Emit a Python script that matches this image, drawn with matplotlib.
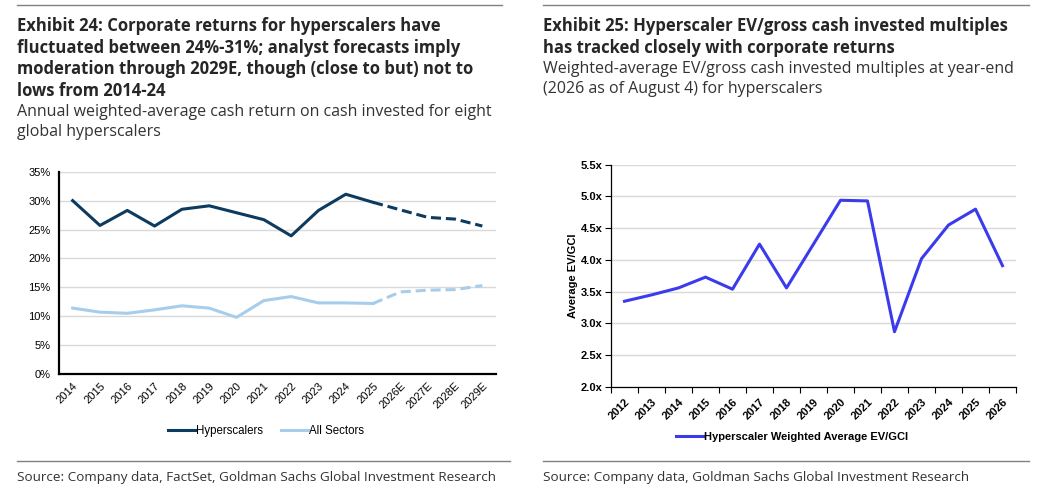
import numpy as np
import matplotlib.pyplot as plt
from matplotlib.lines import Line2D

# --- data ---
years_left = ["2014", "2015", "2016", "2017", "2018", "2019", "2020", "2021",
              "2022", "2023", "2024", "2025", "2026E", "2027E", "2028E", "2029E"]
hyperscalers = [30.0, 25.7, 28.3, 25.6, 28.5, 29.1, 27.9, 26.7,
                23.9, 28.3, 31.1, 29.7, 28.4, 27.1, 26.8, 25.6]
all_sectors = [11.4, 10.7, 10.5, 11.1, 11.8, 11.4, 9.8, 12.7,
               13.4, 12.3, 12.3, 12.2, 14.2, 14.5, 14.6, 15.3]
n_actual = 12  # 2014..2025 are actuals, forecasts after

years_right = ["2012", "2013", "2014", "2015", "2016", "2017", "2018", "2019",
               "2020", "2021", "2022", "2023", "2024", "2025", "2026"]
ev_gci = [3.35, 3.45, 3.56, 3.73, 3.54, 4.25, 3.56, 4.25,
          4.94, 4.93, 2.87, 4.02, 4.55, 4.80, 3.91]

NAVY = "#0D3A5F"
LIGHT = "#A8CDEB"
BLUE = "#3B3BEE"
GRID = "#D9D9D9"
TXT = "#262626"

W, H = 1059, 504
fig = plt.figure(figsize=(W / 100, H / 100), dpi=100)

def fx(px):
    return px / W

def fy(py):
    return 1 - py / H

title_font = "Open Sans"
chart_font = "Liberation Sans"

# --- header / footer rules ---
for x0, x1 in [(17, 502), (543, 1029)]:
    fig.add_artist(Line2D([fx(x0), fx(x1)], [fy(5), fy(5)], color="#808080", lw=1))
for x0, x1 in [(17, 510), (543, 1029)]:
    fig.add_artist(Line2D([fx(x0), fx(x1)], [fy(461), fy(461)], color="#808080", lw=1))

left_title = ["Exhibit 24: Corporate returns for hyperscalers have",
              "fluctuated between 24%-31%; analyst forecasts imply",
              "moderation through 2029E, though (close to but) not to",
              "lows from 2014-24"]
left_sub = ["Annual weighted-average cash return on cash invested for eight",
            "global hyperscalers"]
right_title = ["Exhibit 25: Hyperscaler EV/gross cash invested multiples",
               "has tracked closely with corporate returns"]
right_sub = ["Weighted-average EV/gross cash invested multiples at year-end",
             "(2026 as of August 4) for hyperscalers"]

def header(x, lines_bold, lines_reg):
    y = 26
    for s in lines_bold:
        fig.text(fx(x), fy(y), s, family=title_font, weight="bold", fontsize=12.0,
                 color=TXT, va="center", ha="left")
        y += 21.7
    y -= 0.7
    for s in lines_reg:
        fig.text(fx(x), fy(y), s, family=title_font, fontsize=11.5,
                 color="#333333", va="center", ha="left")
        y += 20.3

header(17, left_title, left_sub)
header(543, right_title, right_sub)

fig.text(fx(17), fy(477), "Source: Company data, FactSet, Goldman Sachs Global Investment Research",
         family=title_font, fontsize=9.7, color="#333333", va="center")
fig.text(fx(543), fy(477), "Source: Company data, Goldman Sachs Global Investment Research",
         family=title_font, fontsize=9.7, color="#333333", va="center")

# --- left chart ---
ax1 = fig.add_axes([fx(59), fy(374), fx(496 - 59), (374 - 171.7) / H])
x = np.arange(len(years_left))
ax1.plot(x[:n_actual], hyperscalers[:n_actual], color=NAVY, lw=2.2)
ax1.plot(x[n_actual - 1:], hyperscalers[n_actual - 1:], color=NAVY, lw=2.2,
         dashes=(3.3, 1.6))
ax1.plot(x[:n_actual], all_sectors[:n_actual], color=LIGHT, lw=2.2)
ax1.plot(x[n_actual - 1:], all_sectors[n_actual - 1:], color=LIGHT, lw=2.2,
         dashes=(3.3, 1.6))
ax1.set_xlim(-0.5, len(years_left) - 0.5)
ax1.set_ylim(0, 35)
ax1.set_yticks(np.arange(0, 36, 5))
ax1.set_yticklabels([f"{v}%" for v in range(0, 36, 5)])
ax1.set_xticks(x)
ax1.set_xticklabels(years_left, rotation=45, ha="right", rotation_mode="anchor")
ax1.tick_params(length=0, labelsize=8, pad=5)
ax1.tick_params(axis="y", pad=6)
for lab in ax1.get_xticklabels() + ax1.get_yticklabels():
    lab.set_family(chart_font)
ax1.grid(axis="y", color=GRID, lw=1)
ax1.set_axisbelow(True)
for s in ["top", "right"]:
    ax1.spines[s].set_visible(False)
for s in ["left", "bottom"]:
    ax1.spines[s].set_linewidth(1.6)
    ax1.spines[s].set_color("black")
handles = [Line2D([], [], color=NAVY, lw=2.2), Line2D([], [], color=LIGHT, lw=2.2)]
fig.legend(handles, ["Hyperscalers", "All Sectors"], loc="center",
           bbox_to_anchor=(fx(266), fy(431)), ncol=2, frameon=False,
           prop={"family": chart_font, "size": 8.3}, handlelength=2.3,
           handletextpad=0.1, columnspacing=1.6)

# --- right chart ---
ax2 = fig.add_axes([fx(611), fy(387), fx(1016 - 611), (387 - 164.7) / H])
x2 = np.arange(len(years_right))
ax2.plot(x2, ev_gci, color=BLUE, lw=2.2)
ax2.set_xlim(-0.5, len(years_right) - 0.5)
ax2.set_ylim(2.0, 5.5)
yt = np.arange(2.0, 5.51, 0.5)
ax2.set_yticks(yt)
ax2.set_yticklabels([f"{v:.1f}x" for v in yt])
ax2.set_xticks(x2)
ax2.set_xticklabels(years_right, rotation=45, ha="right", rotation_mode="anchor")
ax2.set_xticks(np.arange(-0.5, len(years_right)), minor=True)
ax2.tick_params(axis="x", which="major", length=0, pad=7)
ax2.tick_params(axis="x", which="minor", length=4, width=0.8)
ax2.tick_params(axis="y", length=4, width=0.8, pad=2)
ax2.tick_params(labelsize=8)
for lab in ax2.get_xticklabels() + ax2.get_yticklabels():
    lab.set_family(chart_font)
    lab.set_weight("bold")
ax2.set_ylabel("Average EV/GCI", family=chart_font, weight="bold", fontsize=8, labelpad=2)
ax2.grid(axis="y", color=GRID, lw=1)
ax2.set_axisbelow(True)
for s in ["top", "right"]:
    ax2.spines[s].set_visible(False)
for s in ["left", "bottom"]:
    ax2.spines[s].set_linewidth(0.9)
fig.legend([Line2D([], [], color=BLUE, lw=2.2)], ["Hyperscaler Weighted Average EV/GCI"],
           loc="center", bbox_to_anchor=(fx(792), fy(437)), frameon=False,
           prop={"family": chart_font, "size": 8, "weight": "bold"},
           handlelength=2.4, handletextpad=0.1)

fig.savefig("out.png", dpi=100)
